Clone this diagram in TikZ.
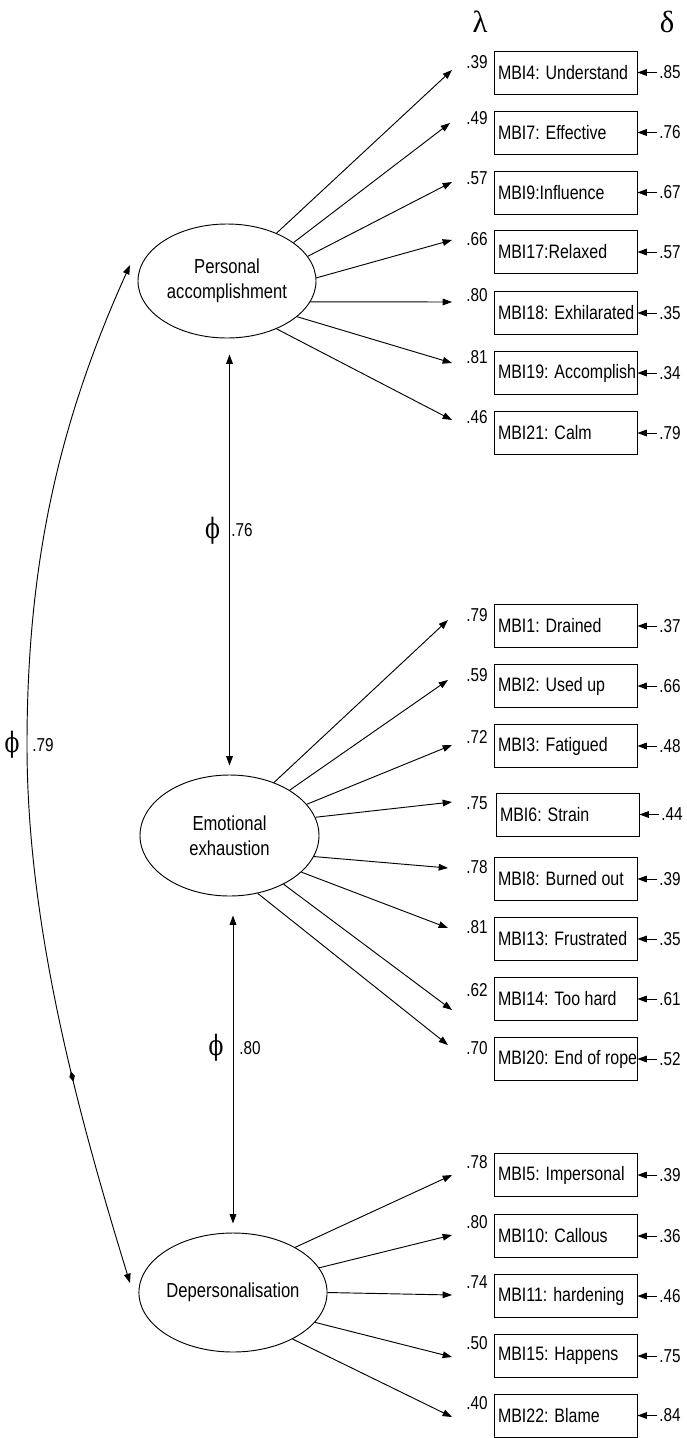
\documentclass[tikz,border=0pt]{standalone}
\usepackage{fontspec}
\usepackage{graphicx}
\setmainfont{Liberation Sans}
\newfontfamily\condsans[FakeStretch=0.82]{Liberation Sans}
\newfontfamily\grkserif{Liberation Serif}
\newfontfamily\phiserif{DejaVu Serif}
\usetikzlibrary{arrows.meta,shapes.geometric}
\newdimen\pxu \pxu=0.75pt
\newcommand{\phisym}{{\phiserif\scalebox{0.78}[1]{ϕ}}}
\begin{document}
\begin{tikzpicture}[x=0.75pt, y=-0.75pt, line width=0.7pt,
  tipA/.style={-{Triangle[length=7pt,width=5pt]}},
  both/.style={{Triangle[length=7pt,width=5pt]}-{Triangle[length=7pt,width=5pt]}},
  itembox/.style={draw, minimum width=143\pxu, minimum height=43\pxu, inner sep=0pt,
    font=\condsans\fontsize{14.6}{17}\selectfont},
  latent/.style={draw, ellipse, inner sep=0pt, align=center,
    font=\condsans\fontsize{15.2}{19}\selectfont},
  lamval/.style={inner sep=0pt, font=\condsans\fontsize{14}{16}\selectfont},
  errlabel/.style={anchor=west, inner sep=1pt, font=\condsans\fontsize{14}{16}\selectfont},
  greekhead/.style={inner sep=0pt, font=\grkserif\fontsize{23}{26}\selectfont},
  phisign/.style={inner sep=0pt, font=\fontsize{21}{24}\selectfont},
  blob/.style={draw=none, fill=black, diamond, minimum width=11\pxu, minimum height=6\pxu, inner sep=0pt, sloped}]
\useasboundingbox (0,0) rectangle (686,1438);

% headers
\node[greekhead] (lamhead) at (480,22) {λ};
\node[greekhead] (delhead) at (667,22) {δ};

% latent variables
\node[latent, minimum width=178\pxu, minimum height=114\pxu] (pa) at (227,281) {Personal\\accomplishment};
\node[latent, minimum width=179\pxu, minimum height=121\pxu] (ee) at (229.5,835.5) {Emotional\\exhaustion};
\node[latent, minimum width=184\pxu, minimum height=119\pxu] (dp) at (233,1292.5) {Depersonalisation};

% Personal accomplishment items
\foreach \n/\bx/\y/\txt/\lv/\ly/\dv/\tx/\ty/\an in {
  4/565.5/72.5/MBI4: Understand/.39/62/.85/452/70/44,
  7/565.5/132.5/MBI7: Effective/.49/118/.76/450/123/30,
  9/565.5/192.5/MBI9:Influence/.57/178/.67/452/182/17,
  17/565.5/252/MBI17:Relaxed/.66/239/.57/452/240/2,
  18/565.5/313/MBI18: Exhilarated/.80/295/.35/452/302/346,
  19/565.5/373/MBI19: Accomplish/.81/357/.34/452/363/333,
  21/565.5/433/MBI21: Calm/.46/417/.79/452/420/316}{
  \node[itembox] (b\n) at (\bx,\y) {\makebox[135\pxu][l]{\txt}};
  \node[lamval] (l\n) at (477,\ly) {\lv};
  \node[errlabel] (e\n) at ([xshift=20\pxu]b\n.east) {\dv};
  \coordinate (t\n) at (\tx,\ty);
  \draw[tipA] (pa.\an) -- (t\n);
  \draw[tipA] (e\n.west) -- (b\n.east);
}

% Emotional exhaustion items
\foreach \n/\bx/\y/\txt/\lv/\ly/\dv/\tx/\ty/\an in {
  1/565.5/626/MBI1: Drained/.79/615/.37/448/620/50,
  2/565.5/686/MBI2: Used up/.59/675/.66/448/680/37,
  3/565.5/746/MBI3: Fatigued/.72/737/.48/452/745/22,
  6/567.5/814.5/MBI6: Strain/.75/803/.44/452/802/12,
  8/565.5/879/MBI8: Burned out/.78/867/.39/448/868/346,
  13/565.5/939/MBI13: Frustrated/.81/927/.35/448/928/333,
  14/565.5/999/MBI14: Too hard/.62/990/.61/452/1010/318,
  20/565.5/1059/MBI20: End of rope/.70/1048/.52/448/1045/296}{
  \node[itembox] (b\n) at (\bx,\y) {\makebox[135\pxu][l]{\txt}};
  \node[lamval] (l\n) at (477,\ly) {\lv};
  \node[errlabel] (e\n) at ([xshift=20\pxu]b\n.east) {\dv};
  \coordinate (t\n) at (\tx,\ty);
  \draw[tipA] (ee.\an) -- (t\n);
  \draw[tipA] (e\n.west) -- (b\n.east);
}

% Depersonalisation items
\foreach \n/\bx/\y/\txt/\lv/\ly/\dv/\tx/\ty/\an in {
  5/565.5/1175/MBI5: Impersonal/.78/1162/.39/452/1175/36,
  10/565.5/1236/MBI10: Callous/.80/1222/.36/452/1235/16,
  11/565.5/1296/MBI11: hardening/.74/1282/.46/452/1295/0,
  15/565.5/1356/MBI15: Happens/.50/1343/.75/452/1357/340,
  22/565.5/1415.5/MBI22: Blame/.40/1403/.84/452/1417/322}{
  \node[itembox] (b\n) at (\bx,\y) {\makebox[135\pxu][l]{\txt}};
  \node[lamval] (l\n) at (477,\ly) {\lv};
  \node[errlabel] (e\n) at ([xshift=20\pxu]b\n.east) {\dv};
  \coordinate (t\n) at (\tx,\ty);
  \draw[tipA] (dp.\an) -- (t\n);
  \draw[tipA] (e\n.west) -- (b\n.east);
}

% correlations between factors
\draw[both, shorten <=16\pxu, shorten >=9\pxu] (ee.north |- pa.south) -- (ee.north)
  node[pos=0.44, phisign, left=9\pxu] (phi1) {\phisym}
  node[pos=0.44, lamval, anchor=west, xshift=1.5\pxu] (r1) {.76};
\draw[both, shorten <=19\pxu, shorten >=9\pxu] (dp.north |- ee.south) -- (dp.north)
  node[pos=0.45, phisign, left=9\pxu] (phi2) {\phisym}
  node[pos=0.45, lamval, anchor=west, xshift=6\pxu] (r2) {.80};

\coordinate (aT) at (130,265);
\coordinate (aM) at (27,745);
\coordinate (aB) at (130,1283);
\draw[both] (aT) .. controls (60,420) and (27,560) .. (aM)
  .. controls (27,930) and (80,1120) .. (aB) node[blob, pos=0.6] (bl) {};
\node[phisign, left=7\pxu] (phi3) at (aM) {\phisym};
\node[lamval, right=5\pxu] (r3) at (aM) {.79};
\end{tikzpicture}
\end{document}
